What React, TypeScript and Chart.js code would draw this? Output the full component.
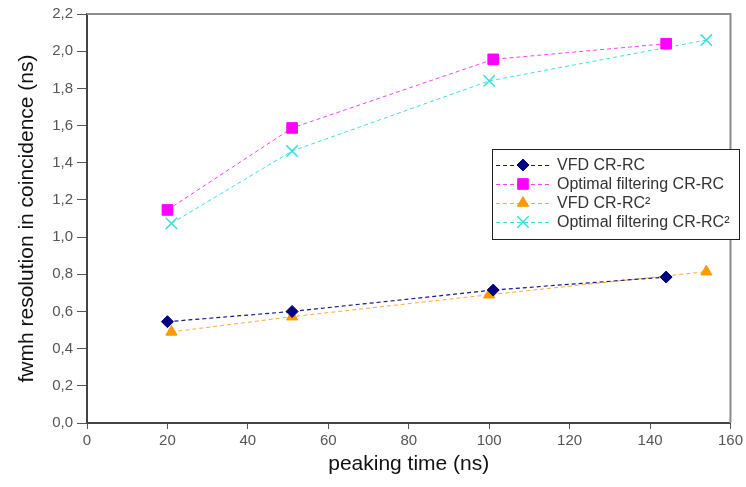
import React, { useEffect, useRef } from 'react';
import { Chart, registerables } from 'chart.js';
import { drawPoint } from 'chart.js/helpers';

Chart.register(...registerables);

// ---- data ----
const seriesLabels = ['VFD CR-RC', 'Optimal filtering CR-RC', 'VFD CR-RC²', 'Optimal filtering CR-RC²'];
const peakingVfdRc = [20, 51, 101, 144];
const fwhmVfdRc = [0.545, 0.6, 0.715, 0.785];
const peakingOptRc = [20, 51, 101, 144];
const fwhmOptRc = [1.146, 1.587, 1.956, 2.04];
const peakingVfdRc2 = [21, 51, 100, 154];
const fwhmVfdRc2 = [0.49, 0.572, 0.69, 0.814];
const peakingOptRc2 = [21, 51, 100, 154];
const fwhmOptRc2 = [1.074, 1.463, 1.84, 2.06];
const xTitle = 'peaking time (ns)';
const yTitle = 'fwmh resolution in coincidence (ns)';

const FONT = '"Liberation Sans", Arial, sans-serif';

const toPoints = (xs: number[], ys: number[]) => xs.map((x, i) => ({ x, y: ys[i] }));

const framePlugin = {
  id: 'frame',
  beforeDatasetsDraw(chart: any) {
    const { ctx, chartArea } = chart;
    const { left, top, right, bottom } = chartArea;
    ctx.save();
    ctx.strokeStyle = '#8c8c8c';
    ctx.lineWidth = 2;
    ctx.beginPath();
    ctx.moveTo(left, top);
    ctx.lineTo(right, top);
    ctx.lineTo(right, bottom);
    ctx.stroke();
    ctx.restore();
  },
};

const legendPlugin = {
  id: 'boxLegend',
  afterDraw(chart: any) {
    const ctx = chart.ctx;
    const bx = 492, by = 149, bw = 247, bh = 90;
    ctx.save();
    ctx.fillStyle = '#ffffff';
    ctx.fillRect(bx, by, bw, bh);
    ctx.strokeStyle = '#222222';
    ctx.lineWidth = 1;
    ctx.strokeRect(bx + 0.5, by + 0.5, bw, bh);
    chart.data.datasets.forEach((ds: any, i: number) => {
      const cy = 165 + i * 19;
      ctx.save();
      ctx.strokeStyle = ds.borderColor;
      ctx.lineWidth = 1;
      ctx.setLineDash(ds.borderDash || []);
      ctx.beginPath();
      ctx.moveTo(496, cy + 0.5);
      ctx.lineTo(551, cy + 0.5);
      ctx.stroke();
      ctx.setLineDash([]);
      ctx.fillStyle = ds.pointBackgroundColor;
      ctx.strokeStyle = ds.pointBorderColor;
      ctx.lineWidth = ds.pointBorderWidth;
      drawPoint(ctx, { pointStyle: ds.pointStyle, radius: ds.pointRadius, rotation: 0, borderWidth: ds.pointBorderWidth }, 523, cy);
      ctx.restore();
      ctx.fillStyle = '#333333';
      ctx.font = `16px ${FONT}`;
      ctx.textBaseline = 'middle';
      ctx.textAlign = 'left';
      ctx.fillText(ds.label, 557, cy + 1);
    });
    ctx.restore();
  },
};

export default function App() {
  const ref = useRef<HTMLCanvasElement | null>(null);

  useEffect(() => {
    if (!ref.current) return;
    const dash = [4, 3];
    const chart = new Chart(ref.current, {
      type: 'line',
      data: {
        datasets: [
          {
            label: seriesLabels[0],
            data: toPoints(peakingVfdRc, fwhmVfdRc),
            borderColor: '#1a1a80',
            borderWidth: 1.2,
            borderDash: dash,
            pointStyle: 'rectRot',
            pointRadius: 6,
            pointBackgroundColor: '#000080',
            pointBorderColor: '#000080',
            pointBorderWidth: 1,
          },
          {
            label: seriesLabels[1],
            data: toPoints(peakingOptRc, fwhmOptRc),
            borderColor: '#ff40ff',
            borderWidth: 1,
            borderDash: dash,
            pointStyle: 'rect',
            pointRadius: 7.5,
            pointBackgroundColor: '#ff00ff',
            pointBorderColor: '#ff00ff',
            pointBorderWidth: 1,
          },
          {
            label: seriesLabels[2],
            data: toPoints(peakingVfdRc2, fwhmVfdRc2),
            borderColor: '#ffaa33',
            borderWidth: 1,
            borderDash: dash,
            pointStyle: 'triangle',
            pointRadius: 6.5,
            pointBackgroundColor: '#ff9900',
            pointBorderColor: '#ff9900',
            pointBorderWidth: 1,
          },
          {
            label: seriesLabels[3],
            data: toPoints(peakingOptRc2, fwhmOptRc2),
            borderColor: '#40dede',
            borderWidth: 1,
            borderDash: dash,
            pointStyle: 'crossRot',
            pointRadius: 8,
            pointBackgroundColor: '#33e0e0',
            pointBorderColor: '#33e0e0',
            pointBorderWidth: 1.5,
          },
        ],
      },
      options: {
        responsive: false,
        animation: false,
        events: [],
        layout: { padding: { top: 14, right: 15, left: 0, bottom: 0 } },
        plugins: {
          legend: { display: false },
          tooltip: { enabled: false },
          title: { display: false },
        },
        scales: {
          x: {
            type: 'linear',
            min: 0,
            max: 160,
            afterFit: (s: any) => { s.height = 64; },
            ticks: {
              stepSize: 20,
              color: '#555555',
              font: { family: FONT, size: 15 },
              padding: 3,
              maxRotation: 0,
            },
            grid: { display: true, drawOnChartArea: false, drawTicks: true, tickLength: 6, color: '#555555', lineWidth: 1 },
            border: { display: true, color: '#444444', width: 2 },
            title: {
              display: true,
              text: xTitle,
              color: '#111111',
              font: { family: FONT, size: 21 },
              padding: { top: 0, bottom: 10 },
            },
          },
          y: {
            type: 'linear',
            min: 0,
            max: 2.2,
            afterFit: (s: any) => { s.width = 87; },
            ticks: {
              stepSize: 0.2,
              color: '#555555',
              font: { family: FONT, size: 15 },
              padding: 4,
              callback: (v: any) => Number(v).toFixed(1).replace('.', ','),
            },
            grid: { display: true, drawOnChartArea: false, drawTicks: true, tickLength: 10, color: '#555555', lineWidth: 1 },
            border: { display: true, color: '#444444', width: 2 },
            title: {
              display: true,
              text: yTitle,
              color: '#111111',
              font: { family: FONT, size: 21 },
              padding: { top: 15, bottom: 0 },
            },
          },
        },
      },
      plugins: [framePlugin, legendPlugin],
    });
    return () => chart.destroy();
  }, []);

  return (
    <div style={{ position: 'absolute', left: 0, top: 0, width: 746, height: 487, background: '#ffffff' }}>
      <canvas ref={ref} width={746} height={487} style={{ width: 746, height: 487, display: 'block' }} />
    </div>
  );
}
